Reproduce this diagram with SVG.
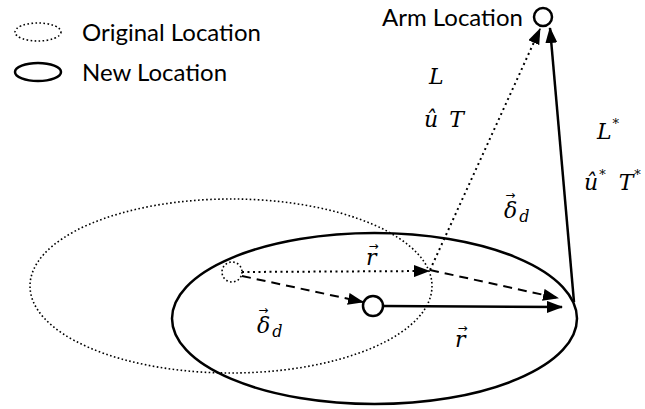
<svg xmlns="http://www.w3.org/2000/svg" width="645" height="409" viewBox="0 0 645 409">
<defs>
<marker id="ah" markerWidth="16" markerHeight="12" refX="15" refY="6" orient="auto" markerUnits="userSpaceOnUse">
<path d="M0,0 L16,6 L0,12 Z" fill="#000"/>
</marker>
</defs>
<style>
.lbl{font-family:"Lato","Liberation Sans",sans-serif;font-size:24px;fill:#000}
.m{font-family:"DejaVu Serif","Liberation Serif",serif;font-style:italic;font-size:22px;fill:#000}
.sup{font-family:"DejaVu Serif","Liberation Serif",serif;font-style:normal;font-size:13px}
.sub{font-size:16px}
.vec{font-family:"DejaVu Sans","Liberation Sans",sans-serif;font-style:normal;font-size:12px}
.dot{fill:none;stroke:#000;stroke-width:1.6;stroke-dasharray:1.6 2.4}
.sol{fill:none;stroke:#000;stroke-width:2.5}
.dl{fill:none;stroke:#000;stroke-width:2;stroke-dasharray:2 3.5}
.da{fill:none;stroke:#000;stroke-width:2;stroke-dasharray:9 6}
.sl{fill:none;stroke:#000;stroke-width:2.5}
</style>
<g id="legend-original">
<ellipse class="dot" cx="38" cy="32" rx="23" ry="9"/>
<text class="lbl" x="82" y="41">Original Location</text>
</g>
<g id="legend-new">
<ellipse class="sol" cx="38" cy="72" rx="23" ry="9"/>
<text class="lbl" x="82" y="81">New Location</text>
</g>
<g id="original-location">
<ellipse class="dot" cx="231" cy="286" rx="201" ry="87"/>
</g>
<g id="new-location">
<ellipse class="sol" cx="374.5" cy="318.5" rx="202.5" ry="85.5"/>
</g>
<g id="orig-point">
<circle class="dot" cx="232" cy="272" r="10"/>
</g>
<g id="new-point">
<circle cx="373" cy="306" r="10" fill="#fff" stroke="#000" stroke-width="2.5"/>
</g>
<g id="arm">
<circle cx="543" cy="17" r="9" fill="#fff" stroke="#000" stroke-width="2.5"/>
<text class="lbl" x="382" y="26">Arm Location</text>
</g>
<g id="connectors">
<line class="dl" x1="242" y1="272" x2="429" y2="271" marker-end="url(#ah)"/>
<line class="da" x1="242" y1="276" x2="363" y2="302" marker-end="url(#ah)"/>
<line class="sl" x1="383" y1="306" x2="562" y2="307" marker-end="url(#ah)"/>
<line class="da" x1="430" y1="270" x2="558" y2="298" marker-end="url(#ah)"/>
<line class="dl" x1="430" y1="270" x2="540" y2="29" marker-end="url(#ah)"/>
<line class="sl" x1="574" y1="302" x2="550" y2="28" marker-end="url(#ah)"/>
</g>
<g id="labels">
<text class="m" x="429" y="84">L</text>
<text class="m" x="424" y="127">û<tspan dx="11">T</tspan></text>
<text class="m" x="597" y="139">L<tspan class="sup" dx="1" dy="-11">*</tspan></text>
<text class="m" x="584" y="190">û<tspan class="sup" dx="1" dy="-11">*</tspan><tspan dx="13" dy="11">T</tspan><tspan class="sup" dx="1" dy="-11">*</tspan></text>
<text class="m" x="366" y="265">r<tspan class="vec" dx="-8" dy="-15">→</tspan></text>
<text class="m" x="455" y="347">r<tspan class="vec" dx="-8" dy="-15">→</tspan></text>
<text class="m" x="504" y="218">δ<tspan class="vec" dx="-12" dy="-19">→</tspan><tspan class="sub" dx="4" dy="23">d</tspan></text>
<text class="m" x="257" y="333">δ<tspan class="vec" dx="-12" dy="-19">→</tspan><tspan class="sub" dx="4" dy="23">d</tspan></text>
</g>
</svg>
